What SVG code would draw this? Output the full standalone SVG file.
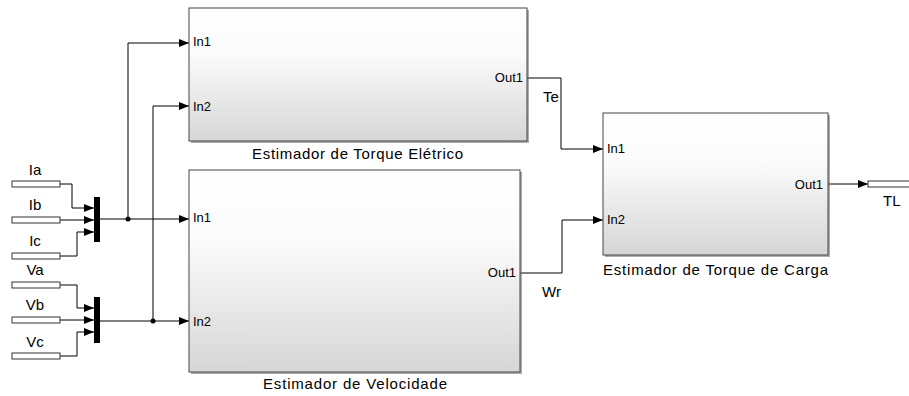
<svg xmlns="http://www.w3.org/2000/svg" width="909" height="396" viewBox="0 0 909 396">
<defs>
<linearGradient id="g" x1="0" y1="0" x2="0" y2="1">
<stop offset="0" stop-color="#ffffff"/>
<stop offset="0.35" stop-color="#fbfbfb"/>
<stop offset="1" stop-color="#d6d6d6"/>
</linearGradient>
<marker id="a" markerWidth="10" markerHeight="8" refX="10" refY="4" orient="auto" markerUnits="userSpaceOnUse">
<path d="M0,0 L10,4 L0,8 Z" fill="#000"/>
</marker>
</defs>
<style>
.blk{fill:url(#g);stroke:#444;stroke-width:1}
.sh{fill:#777;opacity:0.6}
.port{font-family:"Liberation Sans",Arial,sans-serif;font-size:13px;fill:#000}
.name{font-family:"Liberation Sans",Arial,sans-serif;font-size:15px;fill:#000}
.sig{font-family:"Liberation Sans",Arial,sans-serif;font-size:15px;fill:#000}
.lbl{font-family:"Liberation Sans",Arial,sans-serif;font-size:15px;fill:#000}
.w{fill:none;stroke:#000;stroke-width:1}
.in{fill:#fff;stroke:#333;stroke-width:1}
.mux{fill:#000}
</style>
<g id="connectors">
<path class="w" d="M60,184 H72 V208 H94" marker-end="url(#a)"/>
<path class="w" d="M60,220 H94" marker-end="url(#a)"/>
<path class="w" d="M60,256 H77 V232 H94" marker-end="url(#a)"/>
<path class="w" d="M60,285 H77 V308 H94" marker-end="url(#a)"/>
<path class="w" d="M60,320 H94" marker-end="url(#a)"/>
<path class="w" d="M60,356 H77 V332 H94" marker-end="url(#a)"/>
<path class="w" d="M100,219 H189" marker-end="url(#a)"/>
<path class="w" d="M128,219 V43 H189" marker-end="url(#a)"/>
<path class="w" d="M100,321 H189" marker-end="url(#a)"/>
<path class="w" d="M153,321 V106 H189" marker-end="url(#a)"/>
<circle cx="128" cy="219" r="2.5" fill="#000"/>
<circle cx="153" cy="321" r="2.5" fill="#000"/>
<path class="w" d="M527,78 H561 V149 H603" marker-end="url(#a)"/>
<path class="w" d="M520,273 H562 V220 H603" marker-end="url(#a)"/>
<path class="w" d="M828,184 H868" marker-end="url(#a)"/>
<text class="sig" x="543" y="102">Te</text>
<text class="sig" x="542" y="297">Wr</text>
</g>
<g id="Ia"><rect class="in" x="12" y="181" width="48" height="6"/><text class="lbl" x="35" y="175" text-anchor="middle">Ia</text></g>
<g id="Ib"><rect class="in" x="12" y="217" width="48" height="6"/><text class="lbl" x="35" y="210" text-anchor="middle">Ib</text></g>
<g id="Ic"><rect class="in" x="12" y="253" width="48" height="6"/><text class="lbl" x="35" y="246" text-anchor="middle">Ic</text></g>
<g id="Va"><rect class="in" x="12" y="282" width="48" height="6"/><text class="lbl" x="35" y="275" text-anchor="middle">Va</text></g>
<g id="Vb"><rect class="in" x="12" y="317" width="48" height="6"/><text class="lbl" x="35" y="310" text-anchor="middle">Vb</text></g>
<g id="Vc"><rect class="in" x="12" y="353" width="48" height="6"/><text class="lbl" x="35" y="347" text-anchor="middle">Vc</text></g>
<g id="mux1"><rect class="mux" x="94" y="197" width="6" height="45"/></g>
<g id="mux2"><rect class="mux" x="94" y="297" width="6" height="46"/></g>
<g id="torque-eletrico">
<rect class="sh" x="191" y="10" width="338" height="133"/>
<rect class="blk" x="189" y="8" width="338" height="133"/>
<text class="port" x="193" y="46">In1</text>
<text class="port" x="193" y="111">In2</text>
<text class="port" x="523" y="82" text-anchor="end">Out1</text>
<text class="name" x="252" y="159" textLength="211" lengthAdjust="spacing">Estimador de Torque Elétrico</text>
</g>
<g id="velocidade">
<rect class="sh" x="191" y="172" width="331" height="202"/>
<rect class="blk" x="189" y="170" width="331" height="202"/>
<text class="port" x="193" y="222">In1</text>
<text class="port" x="193" y="326">In2</text>
<text class="port" x="516" y="277" text-anchor="end">Out1</text>
<text class="name" x="263" y="389" textLength="184" lengthAdjust="spacing">Estimador de Velocidade</text>
</g>
<g id="torque-carga">
<rect class="sh" x="605" y="115" width="225" height="142"/>
<rect class="blk" x="603" y="113" width="225" height="142"/>
<text class="port" x="607" y="153">In1</text>
<text class="port" x="607" y="224">In2</text>
<text class="port" x="823" y="189" text-anchor="end">Out1</text>
<text class="name" x="603" y="275" textLength="225" lengthAdjust="spacing">Estimador de Torque de Carga</text>
</g>
<g id="TL"><rect class="in" x="868" y="181" width="45" height="6"/><text class="sig" x="883" y="206">TL</text></g>
</svg>
